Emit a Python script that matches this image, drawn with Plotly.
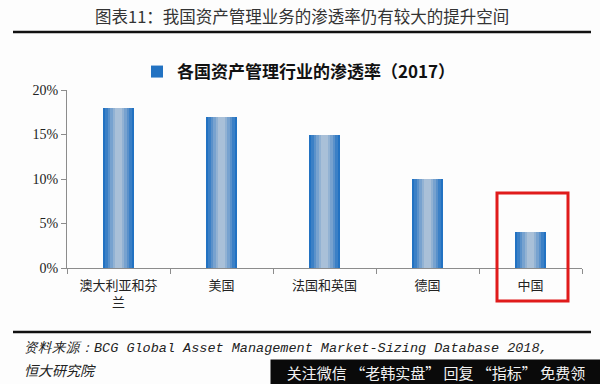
import plotly.graph_objects as go

# ---- data ----
categories = ["澳大利亚和芬<br>兰", "美国", "法国和英国", "德国", "中国"]
values = [18, 17, 15, 10, 4]
y_ticks = [0, 5, 10, 15, 20]
y_tick_labels = ["0%", "5%", "10%", "15%", "20%"]
series_name = "<b>各国资产管理行业的渗透率（2017）</b>"
title_text = "图表11：我国资产管理业务的渗透率仍有较大的提升空间"
source_line1 = "<i>资料来源：BCG Global Asset Management Market-Sizing Database 2018,</i>"
source_line2 = "<i>恒大研究院</i>"
watermark_text = "关注微信 “老韩实盘” 回复 “指标” 免费领"

# ---- style: simulated horizontal gradient with stacked overlay bars ----
layer_widths = [0.31, 0.26, 0.21, 0.16, 0.11, 0.06]
layer_colors = ["#2272c2", "#3b80c6", "#5a91ca", "#77a2cf", "#92b2d3", "#a9c0d8"]

fig = go.Figure()
for i, (w, c) in enumerate(zip(layer_widths, layer_colors)):
    fig.add_trace(go.Bar(
        x=categories, y=values, width=w,
        marker=dict(color=c, line=dict(width=0)),
        name=series_name, showlegend=(i == 0), hoverinfo="skip" if i else None,
    ))

W, H = 600, 384
L, R, T, B = 67, 18, 90, 116
pw, ph = W - L - R, H - T - B

def px_x(px):
    return (px - L) / pw

def px_y(py):
    return (H - B - py) / ph

fig.update_layout(
    width=W, height=H,
    margin=dict(l=L, r=R, t=T, b=B, autoexpand=False),
    paper_bgcolor="#fdfdfd", plot_bgcolor="#fdfdfd",
    barmode="overlay", bargap=0,
    showlegend=True,
    legend=dict(
        orientation="h", xref="container", yref="container",
        x=137 / W, y=1 - 54 / H, xanchor="left", yanchor="top",
        font=dict(family="Noto Sans CJK SC", size=17, color="#111"),
        bgcolor="rgba(0,0,0,0)", itemwidth=30,
    ),
    xaxis=dict(
        type="category", showgrid=False, showline=True, linecolor="#8c8c8c", linewidth=1,
        ticks="outside", tickson="boundaries", ticklen=5, tickcolor="#8c8c8c",
        tickfont=dict(family="Noto Sans CJK SC", size=13, color="#222"),
        ticklabelstandoff=5,
        range=[-0.5, 4.5], fixedrange=True, automargin=False,
    ),
    yaxis=dict(
        range=[0, 20], tickvals=y_ticks, ticktext=y_tick_labels,
        showgrid=False, showline=True, linecolor="#8c8c8c", linewidth=1,
        ticks="outside", ticklen=5, tickcolor="#8c8c8c",
        tickfont=dict(family="Liberation Serif", size=14, color="#222"),
        zeroline=False, fixedrange=True, automargin=False,
    ),
    shapes=[
        dict(type="line", xref="paper", yref="paper",
             x0=px_x(13), x1=px_x(591), y0=px_y(32), y1=px_y(32),
             line=dict(color="#111", width=2.5)),
        dict(type="line", xref="paper", yref="paper",
             x0=px_x(13), x1=px_x(591), y0=px_y(332), y1=px_y(332),
             line=dict(color="#111", width=2.5)),
        dict(type="rect", xref="paper", yref="paper",
             x0=px_x(497), x1=px_x(568), y0=px_y(301), y1=px_y(193),
             line=dict(color="#e01b1b", width=3)),
    ],
    annotations=[
        dict(text=title_text, xref="paper", yref="paper", x=px_x(302), y=px_y(16),
             showarrow=False, xanchor="center", yanchor="middle",
             font=dict(family="Noto Sans CJK SC", size=16.5, color="#333")),
        dict(text=source_line1, xref="paper", yref="paper", x=px_x(22), y=px_y(348),
             showarrow=False, xanchor="left", yanchor="middle",
             font=dict(family="Liberation Mono", size=13.5, color="#222")),
        dict(text=source_line2, xref="paper", yref="paper", x=px_x(22), y=px_y(370),
             showarrow=False, xanchor="left", yanchor="middle",
             font=dict(family="Noto Sans CJK SC", size=14, color="#222", style="italic")),
        dict(text=watermark_text, xref="paper", yref="paper", x=px_x(270), y=px_y(359),
             showarrow=False, xanchor="left", yanchor="top", align="center",
             width=326, height=21, bgcolor="#0a0a0a", borderpad=2,
             font=dict(family="Noto Sans CJK SC", size=15, color="#f2f2f2")),
    ],
)

fig.write_html(
    "out.html",
    config={"displayModeBar": False},
    post_script="document.body.style.margin='0';document.body.style.overflow='hidden';",
)
